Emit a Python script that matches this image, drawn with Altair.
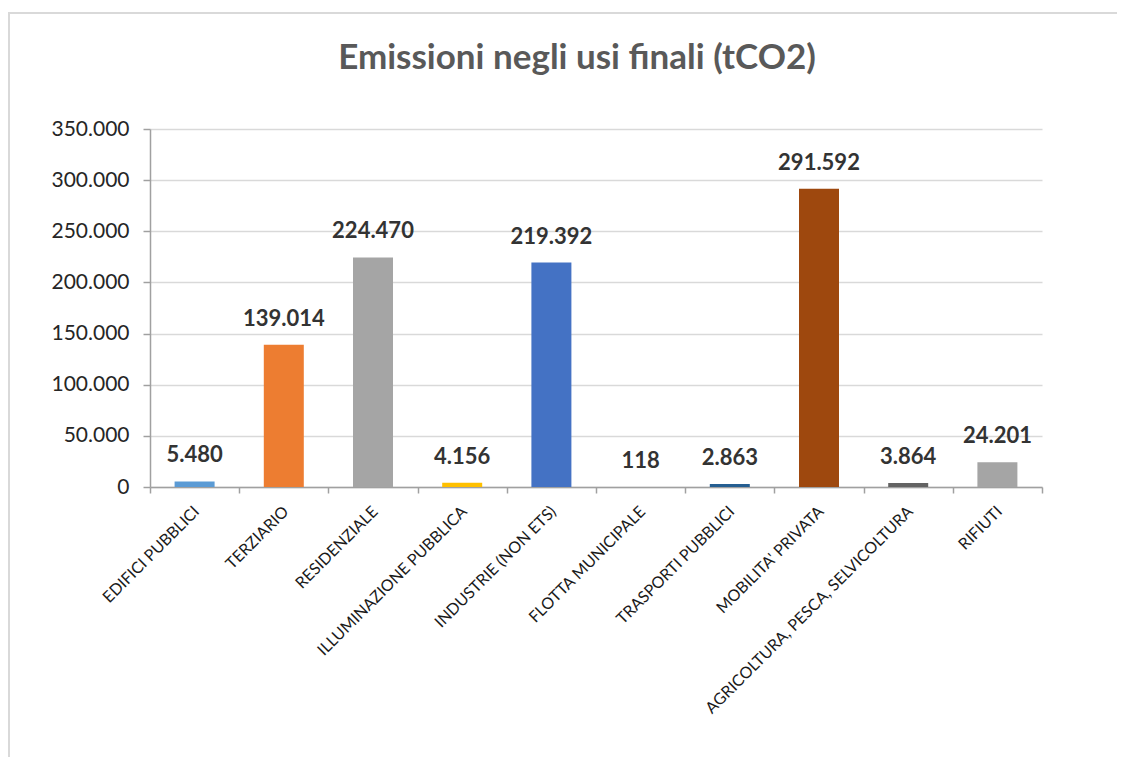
import altair as alt
import pandas as pd

categories = [
    "EDIFICI PUBBLICI", "TERZIARIO", "RESIDENZIALE", "ILLUMINAZIONE PUBBLICA",
    "INDUSTRIE (NON ETS)", "FLOTTA MUNICIPALE", "TRASPORTI PUBBLICI",
    "MOBILITA' PRIVATA", "AGRICOLTURA, PESCA, SELVICOLTURA", "RIFIUTI",
]
values = [5480, 139014, 224470, 4156, 219392, 118, 2863, 291592, 3864, 24201]
colors = [
    "#5B9BD5", "#ED7D31", "#A5A5A5", "#FFC000", "#4472C4",
    "#70AD47", "#255E91", "#9E480E", "#636363", "#A5A5A5",
]
y_ticks = [0, 50000, 100000, 150000, 200000, 250000, 300000, 350000]
title_text = "Emissioni negli usi finali (tCO2)"

df = pd.DataFrame({"cat": categories, "val": values})

FONT = "Lato"
fmt = "replace(format(datum.value, ','), ',', '.')"

x_enc = alt.X(
    "cat:N", sort=categories, title=None,
    scale=alt.Scale(paddingInner=0, paddingOuter=0),
    axis=alt.Axis(
        labelAngle=-45, labelAlign="right", labelBaseline="top",
        labelFont=FONT, labelFontSize=16, labelColor="#1a1a1a",
        labelPadding=10, labelLimit=500, labelOffset=-4,
        tickBand="extent", ticks=True, tickSize=6, tickColor="#A0A0A0",
        tickWidth=1.5, domainColor="#A0A0A0", domainWidth=1.5, grid=False,
    ),
)
y_enc = alt.Y(
    "val:Q", title=None,
    scale=alt.Scale(domain=[0, 350000], nice=False),
    axis=alt.Axis(
        values=y_ticks, labelExpr=fmt, labelFont=FONT, labelFontSize=21,
        labelColor="#262626", labelPadding=14, tickSize=7, tickColor="#A0A0A0",
        tickWidth=1.5, domainColor="#A0A0A0", domainWidth=1.5,
        gridColor="#D9D9D9", gridWidth=1.5,
    ),
)

bars = alt.Chart(df).mark_bar(size=40).encode(
    x=x_enc, y=y_enc,
    color=alt.Color("cat:N", scale=alt.Scale(domain=categories, range=colors), legend=None),
)

labels = alt.Chart(df).transform_calculate(
    lab="replace(format(datum.val, ','), ',', '.')"
).mark_text(
    font=FONT, fontSize=22, fontWeight="bold", color="#333333",
    baseline="alphabetic", align="center", dy=-19,
).encode(
    x=alt.X("cat:N", sort=categories),
    y=alt.Y("val:Q"),
    text="lab:N",
)

border = alt.Chart(df.head(1)).mark_rect(
    filled=False, stroke="#D9D9D9", strokeWidth=2, clip=False
).encode(
    x=alt.value(-141), x2=alt.value(1100),
    y=alt.value(-116), y2=alt.value(800),
)

chart = alt.layer(border, bars, labels).properties(
    width=892, height=358,
    title=alt.TitleParams(
        title_text, font=FONT, fontSize=35, fontWeight="bold", color="#595959",
        anchor="middle", dx=-19, offset=0, baseline="alphabetic", dy=92,
    ),
    autosize=alt.AutoSizeParams(type="none"),
    padding={"left": 142, "top": 121, "right": 75, "bottom": 270},
).configure_view(stroke=None)

chart.save("out.html", embed_options={"renderer": "svg", "actions": False})
